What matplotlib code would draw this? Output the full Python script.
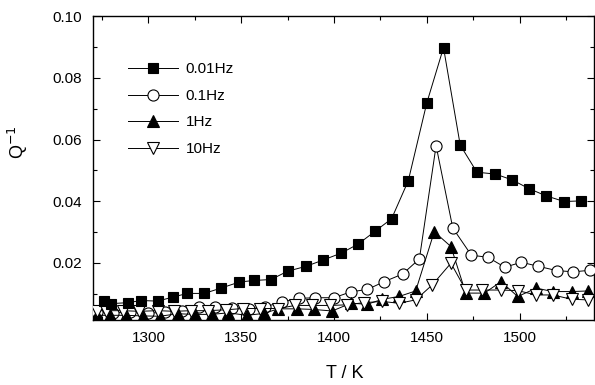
import matplotlib
matplotlib.use("Agg")
import matplotlib.pyplot as plt
from matplotlib.ticker import MultipleLocator

plt.rcParams['font.family'] = ['Liberation Sans', 'DejaVu Sans']

# 0.01 Hz
T1 = [1276, 1280, 1289, 1296, 1305, 1313, 1321, 1330, 1339, 1349, 1357, 1366, 1375, 1385, 1394,
      1404, 1413, 1422, 1431, 1440, 1450, 1459, 1468, 1477, 1487, 1496, 1505, 1514, 1524, 1533]
Q1 = [0.0075, 0.0068, 0.0071, 0.0078, 0.0076, 0.0089, 0.0101, 0.0101, 0.0118, 0.0138, 0.0143,
      0.0146, 0.0173, 0.0189, 0.0209, 0.0232, 0.0261, 0.0302, 0.0343, 0.0466, 0.0719, 0.0898,
      0.0582, 0.0494, 0.0488, 0.0469, 0.0441, 0.0418, 0.0399, 0.0401]
# 0.1 Hz
T2 = [1272, 1281, 1290, 1300, 1309, 1318, 1327, 1336, 1345, 1354, 1363, 1372, 1381, 1390, 1400,
      1409, 1418, 1427, 1437, 1446, 1455, 1464, 1474, 1483, 1492, 1501, 1510, 1520, 1529, 1538]
Q2 = [0.0040, 0.0038, 0.0040, 0.0037, 0.0040, 0.0045, 0.0058, 0.0058, 0.0055, 0.0050, 0.0058,
      0.0073, 0.0085, 0.0087, 0.0087, 0.0106, 0.0114, 0.0139, 0.0164, 0.0213, 0.0580, 0.0313,
      0.0225, 0.0218, 0.0186, 0.0202, 0.0189, 0.0175, 0.0171, 0.0176]
# 1 Hz
T3 = [1272, 1279, 1288, 1297, 1306, 1316, 1325, 1334, 1343, 1353, 1362, 1370, 1380, 1389, 1399,
      1409, 1418, 1426, 1435, 1444, 1454, 1463, 1471, 1481, 1490, 1499, 1509, 1518, 1528, 1537]
Q3 = [0.0030, 0.0030, 0.0030, 0.0028, 0.0027, 0.0035, 0.0033, 0.0033, 0.0038, 0.0030, 0.0036,
      0.0051, 0.0051, 0.0049, 0.0044, 0.0069, 0.0066, 0.0082, 0.0091, 0.0109, 0.0301, 0.0253,
      0.0102, 0.0102, 0.0139, 0.0091, 0.0118, 0.0107, 0.0107, 0.0109]
# 10 Hz
T4 = [1272, 1277, 1286, 1295, 1305, 1314, 1323, 1332, 1342, 1351, 1360, 1370, 1379, 1388, 1398,
      1407, 1416, 1426, 1435, 1444, 1453, 1463, 1471, 1480, 1490, 1499, 1509, 1518, 1528, 1537]
Q4 = [0.0045, 0.0045, 0.0045, 0.0043, 0.0045, 0.0043, 0.0045, 0.0045, 0.0048, 0.0052, 0.0052,
      0.0052, 0.0062, 0.0062, 0.0062, 0.0064, 0.0071, 0.0075, 0.0069, 0.0080, 0.0129, 0.0199,
      0.0112, 0.0112, 0.0112, 0.0110, 0.0096, 0.0096, 0.0082, 0.0080]

labels = ['0.01Hz', '0.1Hz', '1Hz', '10Hz']
xticks = [1300, 1350, 1400, 1450, 1500]
yticks = [0.02, 0.04, 0.06, 0.08, 0.10]

fig = plt.figure(figsize=(5.95, 3.85), dpi=100)
ax = fig.add_axes([0.156, 0.169, 0.842, 0.789])

lw = 0.7
h2, = ax.plot(T2, Q2, '-', color='black', lw=lw, marker='o', ms=8, mfc='white', mec='black', mew=0.8, zorder=3)
h3, = ax.plot(T3, Q3, '-', color='black', lw=lw, marker='^', ms=8.5, mfc='black', mec='black', mew=0.8, zorder=4)
h4, = ax.plot(T4, Q4, '-', color='black', lw=lw, marker='v', ms=8.5, mfc='white', mec='black', mew=0.8, zorder=5)
h1, = ax.plot(T1, Q1, '-', color='black', lw=lw, marker='s', ms=7.8, mfc='black', mec='black', mew=0.8, zorder=6)

ax.set_xlim(1270, 1540)
ax.set_ylim(0.0015, 0.10)
ax.set_xticks(xticks)
ax.set_yticks(yticks)
ax.set_yticklabels(['%.2f' % v for v in yticks])
ax.xaxis.set_minor_locator(MultipleLocator(25))
ax.yaxis.set_minor_locator(MultipleLocator(0.01))
ax.tick_params(which='both', direction='in', top=True, right=True, labelsize=11, width=0.8, pad=8)
ax.tick_params(which='major', length=5)
ax.tick_params(which='minor', length=3)
for s in ax.spines.values():
    s.set_linewidth(1.0)

ax.set_xlabel('T / K', fontsize=13)
ax.set_ylabel('Q$^{-1}$', fontsize=13)
ax.xaxis.set_label_coords(0.502, -0.15)
ax.yaxis.set_label_coords(-0.125, 0.585)

leg = ax.legend([h1, h2, h3, h4], labels,
                loc='upper left', bbox_to_anchor=(0.042, 0.893), frameon=False,
                fontsize=11, handlelength=3.3, labelspacing=0.82, handletextpad=0.5)

fig.savefig('out.png', dpi=100)
